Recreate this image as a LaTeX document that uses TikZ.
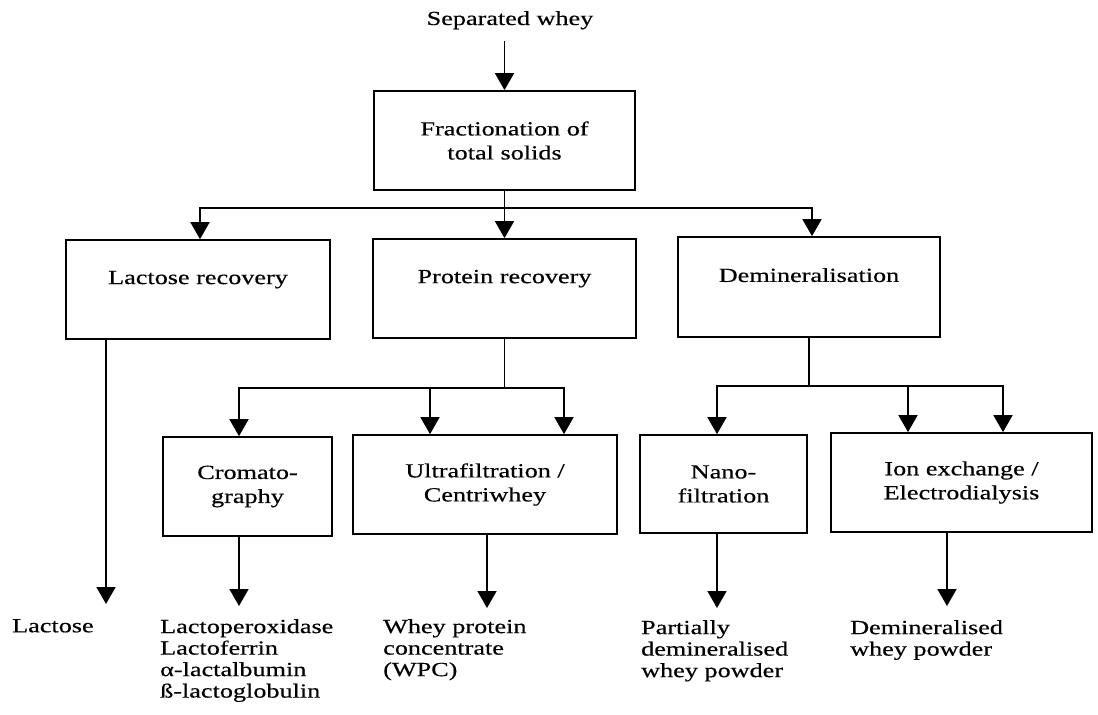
\documentclass[tikz,border=0pt]{standalone}
\usepackage{fontspec}
\setmainfont[FakeStretch=1.31,FakeBold=0.4]{Liberation Serif}
\usetikzlibrary{arrows.meta}
\begin{document}
\begin{tikzpicture}[x=1pt,y=-1pt,
  ln/.style={line width=1.7pt},
  arr/.style={line width=1.7pt,-{Triangle[length=17pt,width=19pt]}},
  bx/.style={draw,line width=1.7pt,inner sep=0pt,align=center,font=\fontsize{20}{24}\selectfont},
  onebx/.style={bx,text depth=24pt},
  outt/.style={anchor=north west,inner sep=0pt,align=left,font=\fontsize{20}{21.5}\selectfont},
  ttl/.style={anchor=base,inner sep=0pt,font=\fontsize{20}{23}\selectfont}]
\useasboundingbox (0,0) rectangle (1098,715);
% title
\node[ttl] (sep) at (510,25) {Separated whey};
% boxes
\node[bx,minimum width=261pt,minimum height=99pt] (frac) at (504.5,140.5) {Fractionation of\\total solids};
\node[onebx,minimum width=264pt,minimum height=99pt] (lac) at (198,289.5) {Lactose recovery};
\node[onebx,minimum width=263pt,minimum height=99pt] (prot) at (504.5,288.5) {Protein recovery};
\node[onebx,minimum width=262pt,minimum height=100pt] (dem) at (809,287) {Demineralisation};
\node[bx,minimum width=169pt,minimum height=99pt] (crom) at (247.5,486.5) {Cromato-\\graphy};
\node[bx,minimum width=264pt,minimum height=99pt] (ultra) at (485,484.5) {Ultrafiltration /\\Centriwhey};
\node[bx,minimum width=167pt,minimum height=98pt] (nano) at (723.5,484) {Nano-\\filtration};
\node[bx,minimum width=261pt,minimum height=99pt] (ion) at (961.5,482.5) {Ion exchange /\\Electrodialysis};
% outputs
\node[outt] (lacO) at (12,619) {Lactose};
\node[outt] (cromO) at (160,619) {Lactoperoxidase\\Lactoferrin\\α-lactalbumin\\ß-lactoglobulin};
\node[outt] (ultraO) at (383,619) {Whey protein\\concentrate\\(WPC)};
\node[outt] (nanoO) at (641,620) {Partially\\demineralised\\whey powder};
\node[outt] (ionO) at (850,620) {Demineralised\\whey powder};
% top arrow
\draw[arr] (sep.south -| frac.north) ++(0,11) -- (frac.north);
% level 1
\draw[ln] (frac.south) -- ++(0,17) coordinate (j1);
\draw[arr] (j1) -| ([xshift=2pt]lac.north);
\draw[arr] (j1) -- (prot.north);
\draw[arr] (j1) -| ([xshift=3pt]dem.north);
% level 2
\draw[ln] (prot.south) -- ++(0,49) coordinate (j2);
\draw[arr] (j2) -| ([xshift=-8.5pt]crom.north);
\draw[arr] (j2) -| ([xshift=-55pt]ultra.north);
\draw[arr] (j2) -| ([xshift=79pt]ultra.north);
% level 3
\draw[ln] (dem.south) -- ++(0,48) coordinate (j3);
\draw[arr] (j3) -| ([xshift=-6.5pt]nano.north);
\draw[arr] (j3) -| ([xshift=-53.5pt]ion.north);
\draw[arr] (j3) -| ([xshift=41.5pt]ion.north);
% outputs arrows
\coordinate (lacE) at (106,604);
\coordinate (cromE) at (239,606);
\coordinate (ultraE) at (487,608);
\coordinate (nanoE) at (717,608);
\coordinate (ionE) at (947,606);
\draw[arr] (lac.south -| lacE) -- (lacE);
\draw[arr] (crom.south -| cromE) -- (cromE);
\draw[arr] (ultra.south -| ultraE) -- (ultraE);
\draw[arr] (nano.south -| nanoE) -- (nanoE);
\draw[arr] (ion.south -| ionE) -- (ionE);
\end{tikzpicture}
\end{document}
